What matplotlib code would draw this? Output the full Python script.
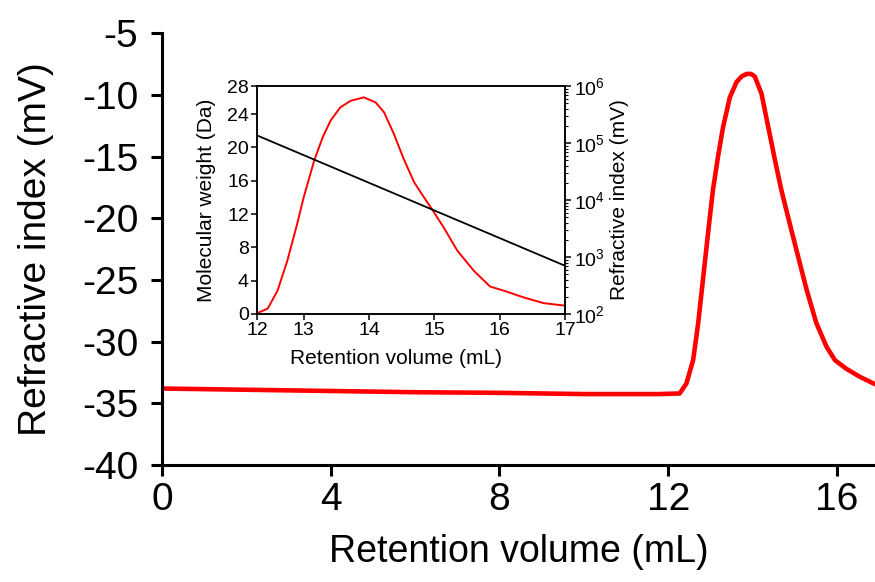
import matplotlib
matplotlib.use("Agg")
import matplotlib.pyplot as plt
from matplotlib.ticker import LogLocator

plt.rcParams['font.family'] = ['Liberation Sans', 'DejaVu Sans']
plt.rcParams['mathtext.fontset'] = 'custom'
plt.rcParams['mathtext.rm'] = 'Liberation Sans'
plt.rcParams['mathtext.it'] = 'Liberation Sans'
plt.rcParams['mathtext.default'] = 'regular'
plt.rcParams['axes.unicode_minus'] = False

# Main chromatogram
main_x = [0, 1, 2, 4, 6, 8, 10, 11.8, 12.27, 12.43, 12.59, 12.71, 12.83, 12.95, 13.06,
          13.18, 13.30, 13.46, 13.62, 13.74, 13.86, 13.96, 14.05, 14.21, 14.37, 14.53,
          14.68, 14.84, 15.04, 15.28, 15.51, 15.75, 15.95, 16.22, 16.54, 16.9]
main_y = [-33.8, -33.85, -33.9, -34.0, -34.1, -34.15, -34.25, -34.25, -34.2, -33.4, -31.5,
          -28.5, -24.75, -21.0, -17.7, -15.0, -12.6, -10.2, -8.95, -8.5, -8.3, -8.3, -8.5,
          -9.9, -12.6, -15.3, -17.7, -19.9, -22.6, -25.8, -28.5, -30.4, -31.5, -32.2,
          -32.85, -33.45]

main_xticks = [0, 4, 8, 12, 16]
main_yticks = [-40, -35, -30, -25, -20, -15, -10, -5]

# Inset: refractive index peak
inset_x = [12.29, 12.45, 12.60, 12.75, 12.90, 13.0, 13.16, 13.29, 13.41, 13.56, 13.72,
           13.92, 14.1, 14.23, 14.38, 14.53, 14.69, 14.84, 14.96, 15.14, 15.35, 15.60,
           15.85, 16.06, 16.36, 16.67, 17.0]
inset_ri = [0.1, 0.65, 2.8, 6.4, 10.8, 14.0, 18.4, 21.2, 23.2, 24.8, 25.6, 26.0, 25.4,
            24.2, 21.6, 18.6, 15.8, 14.0, 12.6, 10.4, 7.6, 5.2, 3.3, 2.8, 2.0, 1.3, 1.0]

# Inset: calibration line (log scale)
cal_x = [12.29, 17.0]
cal_mw = [1.36e5, 7.0e2]

inset_xticks = [12.29, 13, 14, 15, 16, 17]
inset_xticklabels = ['12', '13', '14', '15', '16', '17']
inset_yticks = [0, 4, 8, 12, 16, 20, 24, 27.35]
inset_yticklabels = ['0', '4', '8', '12', '16', '20', '24', '28']

fig = plt.figure(figsize=(8.75, 5.82), dpi=100)
ax = fig.add_axes([0.185, 0.201, 0.815, 0.742])
ax.plot(main_x, main_y, color='#ff0000', lw=3.3, solid_capstyle='round',
        solid_joinstyle='round')
ax.set_xlim(0, 16.9)
ax.set_ylim(-40, -5)
ax.set_xticks(main_xticks)
ax.set_yticks(main_yticks)
for s in ['top', 'right']:
    ax.spines[s].set_visible(False)
for s in ['left', 'bottom']:
    ax.spines[s].set_linewidth(2.2)
ax.tick_params(direction='out', length=8, width=2.2, labelsize=28)
ax.tick_params(axis='x', pad=4)
ax.tick_params(axis='y', pad=9)
ax.set_xlabel('Retention volume (mL)', fontsize=27, labelpad=12)
ax.set_ylabel('Refractive index (mV)', fontsize=28, labelpad=20)

ins = fig.add_axes([0.294, 0.4605, 0.352, 0.3915])
ins.plot(inset_x, inset_ri, color='#ff0000', lw=1.4)
ins.set_xlim(12.29, 17)
ins.set_ylim(0, 27.35)
ins.set_xticks(inset_xticks)
ins.set_xticklabels(inset_xticklabels)
ins.set_yticks(inset_yticks)
ins.set_yticklabels(inset_yticklabels)
ins.tick_params(direction='out', length=4, width=1.1, labelsize=14, pad=2)
for s in ins.spines.values():
    s.set_linewidth(1.1)
ins.set_xlabel('Retention volume (mL)', fontsize=15, labelpad=5)
ins.xaxis.set_label_coords(0.45, -0.155)
ins.set_ylabel('Molecular weight (Da)', fontsize=15, labelpad=8)

ins2 = ins.twinx()
ins2.plot(cal_x, cal_mw, color='black', lw=1.3)
ins2.set_yscale('log')
ins2.set_ylim(1e2, 1e6)
ins2.yaxis.set_major_locator(LogLocator(base=10, numticks=10))
ins2.yaxis.set_minor_locator(LogLocator(base=10, subs=range(2, 10), numticks=50))
ins2.tick_params(which='major', direction='out', length=4, width=1.1, labelsize=14, pad=2)
ins2.tick_params(which='minor', direction='out', length=2, width=0.8)
ins2.set_ylabel('Refractive index (mV)', fontsize=15, labelpad=4)
for s in ins2.spines.values():
    s.set_linewidth(1.1)

fig.savefig('out.png', dpi=100)
